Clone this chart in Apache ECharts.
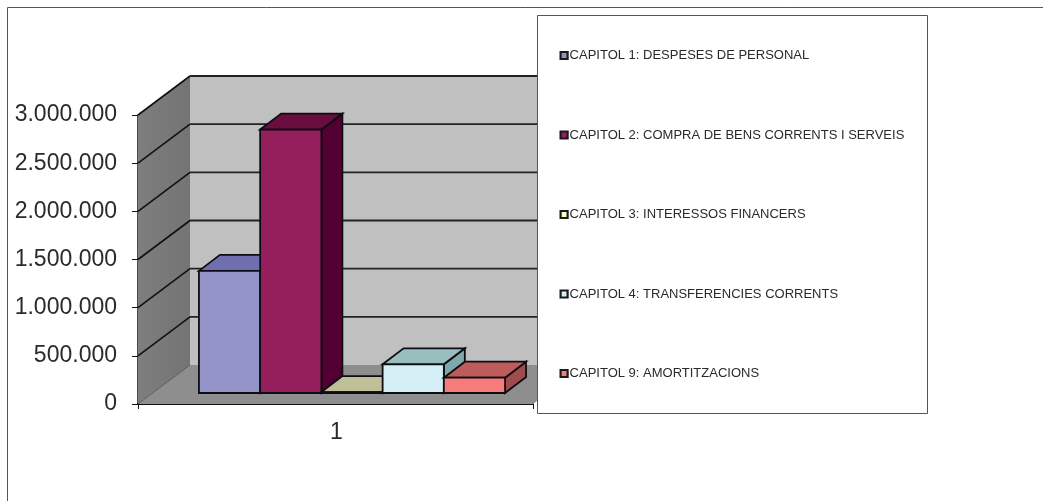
<!DOCTYPE html>
<html>
<head>
<meta charset="utf-8">
<script src="https://cdn.jsdelivr.net/npm/echarts@6/dist/echarts.min.js"></script>
<style>html,body{margin:0;padding:0;background:#fff}#c{width:1043px;height:501px}</style>
</head>
<body>
<div id="c"></div>
<script>
var categories = ['1'];
var seriesNames = [
  'CAPITOL 1: DESPESES DE PERSONAL',
  'CAPITOL 2: COMPRA DE BENS CORRENTS I SERVEIS',
  'CAPITOL 3: INTERESSOS FINANCERS',
  'CAPITOL 4: TRANSFERENCIES CORRENTS',
  'CAPITOL 9: AMORTITZACIONS'
];
var seriesValues = [1268000, 2735000, 10000, 298000, 159000];
var wallTicks = [500000, 1000000, 1500000, 2000000, 2500000, 3000000];
var frontColors = ['#9393C9', '#951F5C', '#FFFFCC', '#D4EFF5', '#F77C7C'];
var topColors = ['#6F6FB0', '#6A0E40', '#BFBF98', '#98BEBE', '#BE5C5C'];
var sideColors = ['#5A5A90', '#520032', '#A0A080', '#80A8A8', '#A04C4C'];

var FONT = '"Liberation Sans", Arial, sans-serif';
var WALL_DX = 52, WALL_DY = -39;
var PLANE_DX = 16.5, PLANE_DY = -11;
var BAR_DX = 21, BAR_DY = -16;
var BAR_FRAC = 0.155;
var EDGE = '#0d0d14';

function poly(points, fill, stroke, lw) {
  return {type: 'polygon', shape: {points: points},
    style: {fill: fill, stroke: stroke || null, lineWidth: lw || 0, lineJoin: 'miter'}};
}
function line(a, b, stroke, lw) {
  return {type: 'line', shape: {x1: a[0], y1: a[1], x2: b[0], y2: b[1]},
    style: {stroke: stroke, lineWidth: lw, fill: null}};
}

function renderWalls(params, api) {
  var w = api.size([1, 0])[0];
  var b0 = api.coord([0, 0]);
  var top = api.coord([0, 3000000]);
  var l = b0[0] - w / 2, r = b0[0] + w / 2 ;
  var y0 = b0[1], y1 = top[1];
  var d = [WALL_DX, WALL_DY];
  return {type: 'group', children: [
    poly([[l + d[0], y1 + d[1]], [r + d[0], y1 + d[1]], [r + d[0], y0 + d[1]], [l + d[0], y0 + d[1]]], '#C0C0C0'),
    poly([[l, y1], [l + d[0], y1 + d[1]], [l + d[0], y0 + d[1]], [l, y0]],
      {type: 'linear', x: 0, y: 0, x2: 1, y2: 0, colorStops: [{offset: 0, color: '#7e7e7e'}, {offset: 1, color: '#747474'}]}),
    poly([[l, y0], [l + d[0], y0 + d[1]], [r + d[0], y0 + d[1]], [r, y0]], '#8E8E8E'),
    line([l, y0], [l + d[0], y0 + d[1]], '#5a5a5a', 1),
    line([l, y1], [l + d[0], y1 + d[1]], '#555', 1),
    line([l + d[0], y1 + d[1]], [r + d[0], y1 + d[1]], '#222', 1.5)
  ]};
}
function renderTick(params, api) {
  var w = api.size([1, 0])[0];
  var c = api.coord([0, api.value(1)]);
  var l = c[0] - w / 2, r = c[0] + w / 2;
  return {type: 'group', children: [
    line([l, c[1]], [l + WALL_DX, c[1] + WALL_DY], '#111', 1.6),
    line([l + WALL_DX, c[1] + WALL_DY], [r + WALL_DX, c[1] + WALL_DY], '#222', 1.8)
  ]};
}
function renderBar(i) {
  return function (params, api) {
    var w = api.size([1, 0])[0];
    var base = api.coord([0, 0]);
    var top = api.coord([0, api.value(1)]);
    var bw = w * BAR_FRAC;
    var x0 = base[0] + PLANE_DX + (i - 2.5) * bw;
    var x1 = x0 + bw;
    var yb = base[1] + PLANE_DY, yt = top[1] + PLANE_DY;
    return {type: 'group', children: [
      poly([[x1, yb], [x1 + BAR_DX, yb + BAR_DY], [x1 + BAR_DX, yt + BAR_DY], [x1, yt]], sideColors[i], EDGE, 1.8),
      poly([[x0, yt], [x0 + BAR_DX, yt + BAR_DY], [x1 + BAR_DX, yt + BAR_DY], [x1, yt]], topColors[i], EDGE, 1.8),
      poly([[x0, yb], [x1, yb], [x1, yt], [x0, yt]], frontColors[i], EDGE, 1.8)
    ]};
  };
}

var series = [
  {type: 'custom', name: '_walls', silent: true, z: 1, clip: false, renderItem: renderWalls, data: [[0, 0]]},
  {type: 'custom', name: '_ticks', silent: true, z: 1, clip: false, renderItem: renderTick,
    data: wallTicks.map(function (v) { return [0, v]; })}
];
seriesNames.forEach(function (n, i) {
  series.push({type: 'custom', name: n, z: 2, clip: false, renderItem: renderBar(i),
    itemStyle: {color: frontColors[i]}, data: [[0, seriesValues[i]]]});
});

var chart = echarts.init(document.getElementById('c'), null, {renderer: 'canvas'});
chart.setOption({
  animation: false,
  backgroundColor: '#fff',
  graphic: [
    {type: 'rect', z: 0, shape: {x: 7.5, y: 7.5, width: 1200, height: 700},
      style: {fill: null, stroke: '#555', lineWidth: 1}},
    {type: 'rect', z: 3, shape: {x: 537.5, y: 15.5, width: 390, height: 398},
      style: {fill: '#fff', stroke: '#555', lineWidth: 1}}
  ],
  grid: {left: 138, right: 510, top: 115, bottom: 97},
  xAxis: {
    type: 'category', data: categories, boundaryGap: true,
    axisLine: {show: true, lineStyle: {color: '#111', width: 2}},
    axisTick: {show: true, length: 5, alignWithLabel: false, lineStyle: {color: '#111', width: 1}},
    axisLabel: {fontFamily: FONT, fontSize: 23, color: '#2a2a2a', margin: 17, padding: [0, 0, 0, 2]}
  },
  yAxis: {
    type: 'value', min: 0, max: 3000000, interval: 500000,
    splitLine: {show: false},
    axisLine: {show: true, lineStyle: {color: '#111', width: 1.5}},
    axisTick: {show: true, length: 6, lineStyle: {color: '#111', width: 1}},
    axisLabel: {
      fontFamily: FONT, fontSize: 23, color: '#2a2a2a', margin: 21, padding: [2, 0, 0, 0],
      formatter: function (v) { return String(v).replace(/\B(?=(\d{3})+$)/g, '.'); }
    }
  },
  legend: {
    show: true, orient: 'vertical', left: 559.5, top: 49, padding: 0,
    selectedMode: false, itemWidth: 7, itemHeight: 7, itemGap: 66.5,
    textStyle: {fontFamily: FONT, fontSize: 13, color: '#2a2a2a', padding: [0, 0, 0, -3]},
    data: seriesNames.map(function (n, i) {
      return {name: n, icon: 'rect', itemStyle: {color: frontColors[i], borderColor: '#1a1a1a', borderWidth: 2.2}};
    })
  },
  series: series
});
</script>
</body>
</html>
